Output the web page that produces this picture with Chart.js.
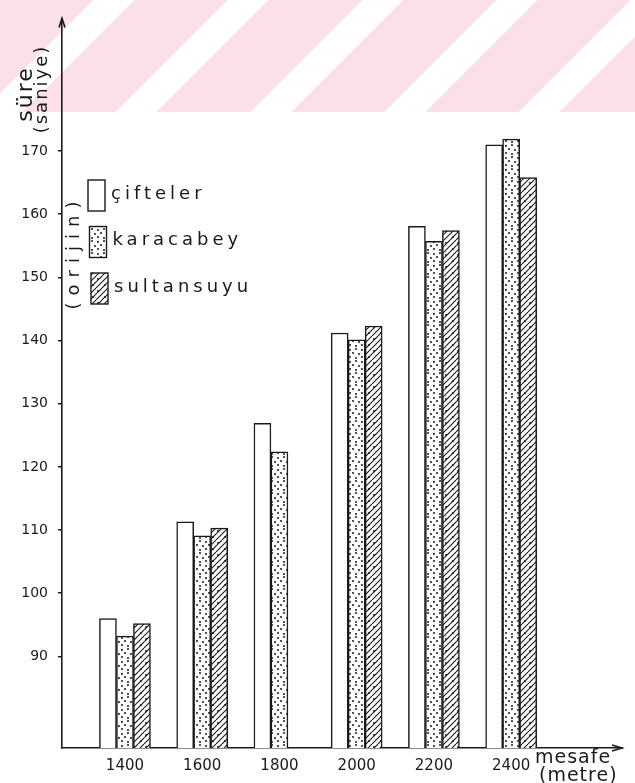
<!DOCTYPE html>
<html>
<head>
<meta charset="utf-8">
<script src="https://cdn.jsdelivr.net/npm/chart.js@4"></script>
<style>
  html, body { margin: 0; padding: 0; background: #fff; }
  #wrap { position: relative; width: 635px; height: 783px; }
  #band {
    position: absolute; left: 0; top: 0; width: 635px; height: 112px;
    background: repeating-linear-gradient(135deg, #fbe1e7 0 66px, #ffffff 66px 95px);
  }
  #chart { position: absolute; left: 0; top: 0; }
</style>
</head>
<body>
<div id="wrap">
  <div id="band"></div>
  <canvas id="chart" width="635" height="783"></canvas>
</div>
<script>
// distances (metre) and times (saniye) per region
const distances = [1400, 1600, 1800, 2000, 2200, 2400];
const distanceLabels = ['1400', '1600', '1800', '2000', '2200', '2400'];
const cifteler = [96.0, 111.3, 126.9, 141.2, 158.1, 171.0];
const karacabey = [93.2, 109.1, 122.4, 140.1, 155.7, 171.9];
const sultansuyu = [95.2, 110.3, null, 142.3, 157.4, 165.8];
const seriesNames = ['çifteler', 'karacabey', 'sultansuyu'];
const yTicks = [90, 100, 110, 120, 130, 140, 150, 160, 170];

const ink = '#1a1a1a';

// fill patterns for the bars
function makePattern(drawFn) {
  const c = document.createElement('canvas');
  c.width = 12; c.height = 12;
  const g = c.getContext('2d');
  g.fillStyle = '#fff';
  g.fillRect(0, 0, 12, 12);
  g.fillStyle = ink;
  g.strokeStyle = ink;
  drawFn(g);
  return g.createPattern(c, 'repeat');
}

function dots(g, pts) {
  pts.forEach(p => {
    g.beginPath();
    g.arc(p[0], p[1], 1.0, 0, Math.PI * 2);
    g.fill();
  });
}

const plain = '#ffffff';
const dotted = makePattern(g => dots(g, [[2, 2], [8, 1], [5, 5], [11, 6], [2, 9], [8, 10]]));
const hatched = makePattern(g => {
  g.lineWidth = 1.1;
  [-12, -6, 0, 6, 12].forEach(k => {
    g.beginPath();
    g.moveTo(k, 12);
    g.lineTo(k + 12, 0);
    g.stroke();
  });
  dots(g, [[2, 3], [9, 9]]);
});
const fills = [plain, dotted, hatched];

function toPoints(values) {
  return distances.map((d, i) => ({ x: d, y: values[i] }));
}

// arrows, axis titles, legend
const decorations = {
  id: 'decorations',
  afterDraw(chart) {
    const ctx = chart.ctx;
    const area = chart.chartArea;
    ctx.save();
    ctx.fillStyle = ink;
    ctx.strokeStyle = ink;
    ctx.lineWidth = 1.6;

    // arrow heads
    ctx.beginPath();
    ctx.moveTo(area.left - 3, area.top + 9);
    ctx.lineTo(area.left, area.top);
    ctx.lineTo(area.left + 3, area.top + 9);
    ctx.stroke();
    ctx.beginPath();
    ctx.moveTo(area.right - 10, area.bottom - 3);
    ctx.lineTo(area.right, area.bottom);
    ctx.lineTo(area.right - 10, area.bottom + 3);
    ctx.stroke();

    // y axis title
    ctx.save();
    ctx.translate(26, 94);
    ctx.rotate(-Math.PI / 2);
    ctx.textAlign = 'center';
    ctx.textBaseline = 'middle';
    ctx.font = '22px "DejaVu Sans"';
    ctx.letterSpacing = '2px';
    ctx.fillText('süre', 0, 0);
    ctx.restore();
    ctx.save();
    ctx.translate(42, 89);
    ctx.rotate(-Math.PI / 2);
    ctx.textAlign = 'center';
    ctx.textBaseline = 'middle';
    ctx.font = '18px "DejaVu Sans"';
    ctx.letterSpacing = '2px';
    ctx.fillText('(saniye)', 0, 0);
    ctx.restore();

    // x axis title
    ctx.textAlign = 'left';
    ctx.textBaseline = 'alphabetic';
    ctx.font = '19px "DejaVu Sans"';
    ctx.letterSpacing = '1px';
    ctx.fillText('mesafe', 535, 763);
    ctx.fillText('(metre)', 539, 781);

    // legend
    ctx.font = '18px "DejaVu Sans"';
    ctx.letterSpacing = '4px';
    ctx.textBaseline = 'middle';
    chart.data.datasets.forEach((ds, i) => {
      const bx = 88 + i * 1.5;
      const by = 180 + i * 46.5;
      ctx.fillStyle = ds.backgroundColor;
      ctx.fillRect(bx, by, 17, 31);
      ctx.lineWidth = 1.4;
      ctx.strokeRect(bx, by, 17, 31);
      ctx.fillStyle = ink;
      ctx.fillText(ds.label, bx + 23, by + 14);
    });

    // origin note beside the legend
    ctx.save();
    ctx.translate(74, 252);
    ctx.rotate(-Math.PI / 2);
    ctx.textAlign = 'center';
    ctx.font = '18px "DejaVu Sans"';
    ctx.letterSpacing = '7px';
    ctx.fillText('(orijin)', 0, 0);
    ctx.restore();

    ctx.restore();
  }
};

const chart = new Chart(document.getElementById('chart'), {
  type: 'bar',
  data: {
    datasets: [cifteler, karacabey, sultansuyu].map((vals, i) => ({
      label: seriesNames[i],
      data: toPoints(vals),
      backgroundColor: fills[i],
      borderColor: ink,
      borderWidth: 1.5,
      borderSkipped: 'bottom',
      barThickness: 17
    }))
  },
  options: {
    responsive: false,
    animation: false,
    layout: { padding: { top: 15, right: 13, left: 0, bottom: 0 } },
    plugins: {
      legend: { display: false },
      tooltip: { enabled: false }
    },
    scales: {
      x: {
        type: 'linear',
        offset: false,
        min: 1237,
        max: 2687,
        afterBuildTicks: s => { s.ticks = distances.map(v => ({ value: v })); },
        afterFit: s => { s.height = 35; },
        grid: { display: false },
        border: { display: true, color: ink, width: 1.6 },
        ticks: {
          color: ink,
          font: { family: 'DejaVu Sans', size: 15 },
          padding: 1,
          maxRotation: 0,
          callback: v => distanceLabels[distances.indexOf(v)]
        }
      },
      y: {
        min: 75.5,
        max: 191,
        afterBuildTicks: s => { s.ticks = yTicks.map(v => ({ value: v })); },
        afterFit: s => { s.width = 62; },
        grid: { display: true, drawOnChartArea: false, tickLength: 4, color: ink, lineWidth: 1.5 },
        border: { display: true, color: ink, width: 1.6 },
        ticks: {
          color: ink,
          font: { family: 'DejaVu Sans', size: 14 },
          padding: 10
        }
      }
    }
  },
  plugins: [decorations]
});
</script>
</body>
</html>
